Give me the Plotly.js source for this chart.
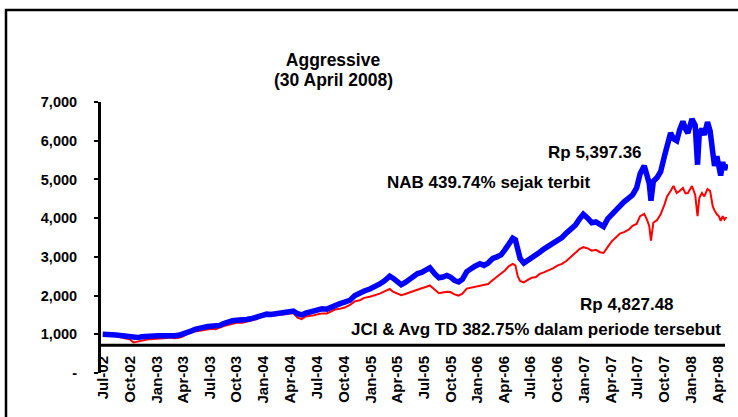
<!DOCTYPE html>
<html>
<head>
<meta charset="utf-8">
<script src="https://cdn.plot.ly/plotly-3.0.1.min.js"></script>
<style>html,body{margin:0;padding:0;background:#fff;}#chart{width:738px;height:417px;}</style>
</head>
<body>
<div id="chart"></div>
<script>
const dates = [
"2002-07-01","2002-07-15","2002-08-01","2002-08-15","2002-09-01","2002-09-15","2002-10-01","2002-10-14","2002-10-28","2002-11-11",
"2002-11-25","2002-12-09","2002-12-23","2003-01-06","2003-01-20","2003-02-03","2003-02-17","2003-03-03","2003-03-17","2003-03-31",
"2003-04-14","2003-04-28","2003-05-12","2003-05-28","2003-06-10","2003-06-24","2003-07-07","2003-07-21","2003-08-04","2003-08-18",
"2003-09-01","2003-09-17","2003-10-01","2003-10-21","2003-11-04","2003-11-18","2003-12-08","2003-12-22","2004-01-12","2004-01-26",
"2004-02-09","2004-02-26","2004-03-15","2004-04-01","2004-04-12","2004-04-26","2004-05-10","2004-05-24","2004-06-07","2004-06-21",
"2004-07-05","2004-07-19","2004-08-04","2004-08-18","2004-09-01","2004-09-18","2004-10-04","2004-10-22","2004-11-08","2004-11-25",
"2004-12-10","2004-12-29","2005-01-14","2005-02-01","2005-02-17","2005-03-07","2005-03-18","2005-04-01","2005-04-15","2005-04-29",
"2005-05-13","2005-05-27","2005-06-10","2005-06-24","2005-07-08","2005-07-22","2005-08-08","2005-08-22","2005-09-04","2005-09-18",
"2005-09-30","2005-10-14","2005-10-28","2005-11-10","2005-11-25","2005-12-09","2005-12-23","2006-01-09","2006-01-23","2006-02-06",
"2006-02-22","2006-03-08","2006-03-22","2006-04-04","2006-04-18","2006-05-01","2006-05-10","2006-05-18","2006-05-26","2006-06-08",
"2006-06-20","2006-07-05","2006-07-19","2006-08-01","2006-08-15","2006-09-01","2006-09-15","2006-10-02","2006-10-16","2006-11-01",
"2006-11-15","2006-12-01","2006-12-15","2006-12-28","2007-01-12","2007-01-26","2007-02-09","2007-02-23","2007-03-07","2007-03-21",
"2007-04-04","2007-04-18","2007-05-02","2007-05-16","2007-06-01","2007-06-14","2007-06-28","2007-07-10","2007-07-24","2007-08-03",
"2007-08-10","2007-08-16","2007-08-24","2007-09-06","2007-09-18","2007-10-01","2007-10-10","2007-10-22","2007-11-01","2007-11-12",
"2007-11-22","2007-12-03","2007-12-12","2007-12-20","2008-01-03","2008-01-14","2008-01-22","2008-01-28","2008-02-06","2008-02-14",
"2008-02-25","2008-03-05","2008-03-14","2008-03-20","2008-03-28","2008-04-04","2008-04-10","2008-04-17","2008-04-23","2008-04-30"
];
const nab = [
1000,1010,990,980,960,950,935,905,915,935,
950,960,955,965,960,955,965,960,975,1000,
1040,1080,1130,1170,1180,1200,1215,1210,1230,1280,
1320,1350,1365,1360,1380,1400,1440,1480,1520,1510,
1525,1520,1560,1590,1600,1530,1500,1545,1570,1620,
1640,1660,1650,1700,1760,1790,1830,1880,2000,2080,
2120,2170,2220,2300,2380,2500,2450,2360,2280,2340,
2420,2520,2570,2600,2660,2720,2560,2460,2480,2520,
2480,2390,2350,2420,2620,2700,2760,2820,2780,2840,
2960,3000,3050,3180,3350,3480,3440,3150,2960,2840,
2900,2980,3020,3120,3200,3280,3350,3450,3500,3620,
3700,3820,3980,4100,4000,3880,3900,3820,3780,3980,
4100,4200,4350,4420,4520,4600,4780,5150,5350,5100,
4900,4450,4950,5050,5200,5600,5900,6200,6050,6000,
6280,6500,6300,6200,6560,6400,5380,6200,6300,6150,
6480,6250,5700,5350,5600,5200,5100,5450,5250,5397.36
];
const jci = [
1000,1000,980,960,930,900,870,790,810,840,
860,875,880,895,885,905,915,900,910,940,
1000,1050,1070,1090,1100,1120,1140,1130,1160,1210,
1240,1270,1300,1300,1330,1350,1390,1450,1480,1480,
1490,1495,1520,1540,1545,1430,1390,1460,1470,1490,
1520,1540,1540,1600,1640,1660,1690,1760,1850,1880,
1940,1970,2000,2050,2110,2170,2100,2060,2010,2040,
2080,2130,2160,2190,2220,2260,2150,2060,2080,2100,
2090,2030,2000,2050,2180,2200,2230,2260,2280,2300,
2400,2480,2560,2650,2760,2820,2780,2500,2380,2340,
2400,2460,2480,2560,2600,2650,2700,2780,2820,2900,
2990,3100,3200,3250,3220,3160,3180,3120,3100,3250,
3400,3500,3600,3640,3700,3800,3850,4050,4110,3950,
3800,3420,3880,3950,4100,4350,4560,4700,4830,4650,
4700,4780,4640,4650,4830,4600,4050,4520,4650,4560,
4750,4700,4300,4200,4100,4050,3930,4050,3960,4030
];
const seriesNames = ["JCI & Avg TD", "NAB"];
const yTickVals = [0,1000,2000,3000,4000,5000,6000,7000];
const yTickText = ["-","1,000","2,000","3,000","4,000","5,000","6,000","7,000"];
const titleText = "Aggressive";
const subtitleText = "(30 April 2008)";
const labelNabValue = "Rp 5,397.36";
const labelNabGrowth = "NAB 439.74% sejak terbit";
const labelJciValue = "Rp 4,827.48";
const labelJciGrowth = "JCI & Avg TD 382.75% dalam periode tersebut";

const FONT = "Liberation Sans, Arial, Helvetica, sans-serif";
const W = 738, H = 417;
const M = {l:101, r:10, t:102, b:27};
const pw = W - M.l - M.r, ph = H - M.t - M.b;
const px = v => (v - M.l) / pw;
const py = v => (H - M.b - v) / ph;

const traces = [
  {x: dates, y: jci, name: seriesNames[0], type: "scatter", mode: "lines",
   line: {color: "#ff0000", width: 2}},
  {x: dates, y: nab, name: seriesNames[1], type: "scatter", mode: "lines",
   line: {color: "#0000ff", width: 5.5}}
];

const annFont = {family: FONT, size: 17, color: "#000", weight: "bold"};
const titleFont = {family: FONT, size: 17.5, color: "#000", weight: "bold"};
const ann = (text, x, y, font) => ({text, xref: "paper", yref: "paper", x: px(x), y: py(y),
  xanchor: "center", yanchor: "middle", showarrow: false, font});
const layout = {
  width: W, height: H,
  margin: M,
  paper_bgcolor: "#fff", plot_bgcolor: "#fff",
  showlegend: false,
  font: {family: FONT, color: "#000", weight: "bold"},
  title: {text: titleText, font: titleFont,
          x: 333/W, xref: "container", xanchor: "center",
          y: 1 - 60/H, yref: "container", yanchor: "middle"},
  xaxis: {type: "date", range: ["2002-06-25", "2008-05-05"],
          tick0: "2002-07-01", dtick: "M3", tickformat: "%b-%y", tickangle: -90,
          anchor: "free", position: py(352),
          showline: false, showgrid: false, zeroline: false, ticks: "",
          tickfont: {family: FONT, size: 15, color: "#000", weight: "bold"}},
  yaxis: {range: [0, 7000], domain: [py(373), 1], tickvals: yTickVals, ticktext: yTickText,
          showline: true, linewidth: 3, linecolor: "#000",
          ticks: "outside", ticklen: 4, tickwidth: 2, tickcolor: "#000",
          ticklabelstandoff: 14,
          showgrid: false, zeroline: false,
          tickfont: {family: FONT, size: 14.5, color: "#000", weight: "bold"}},
  shapes: [
    {type: "line", xref: "paper", yref: "y", x0: 0, x1: px(725), y0: 720, y1: 720,
     line: {color: "#000", width: 3}, layer: "below"},
    {type: "rect", xref: "paper", yref: "paper", x0: px(6), x1: px(760), y0: py(440), y1: py(10),
     line: {color: "#000", width: 2.5}, fillcolor: "rgba(0,0,0,0)"}
  ],
  annotations: [
    ann(subtitleText, 333, 80, titleFont),
    ann(labelNabValue, 595, 152, annFont),
    ann(labelNabGrowth, 488, 182, annFont),
    ann(labelJciValue, 627, 304, annFont),
    ann(labelJciGrowth, 536, 329, annFont)
  ]
};

Plotly.newPlot("chart", traces, layout, {displayModeBar: false, staticPlot: true});
</script>
</body>
</html>
